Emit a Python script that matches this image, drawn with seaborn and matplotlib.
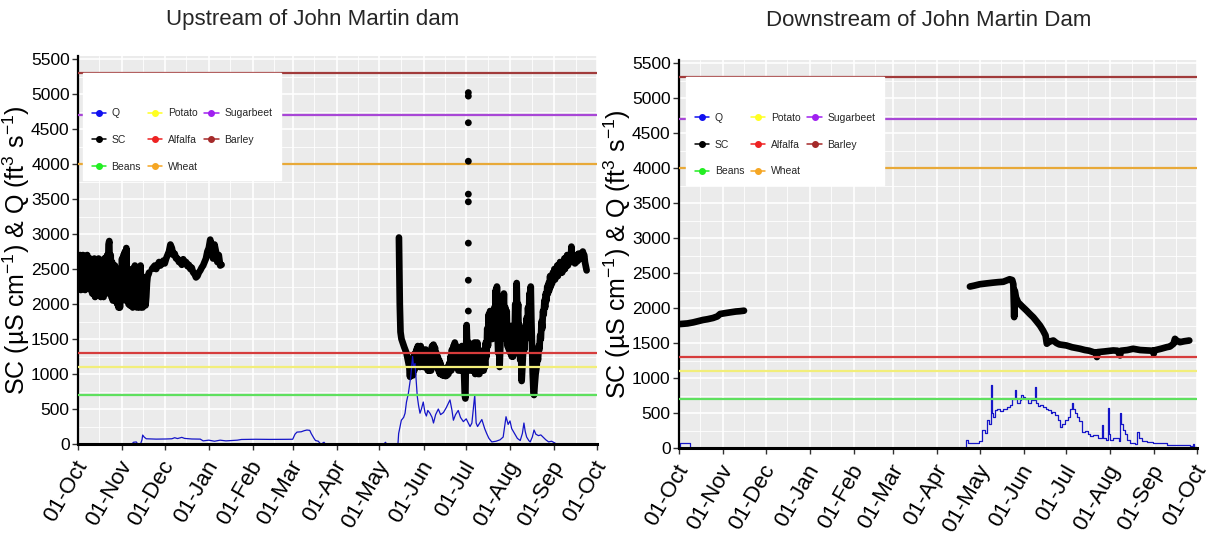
import numpy as np
import pandas as pd
import seaborn as sns
import matplotlib
matplotlib.use('Agg')
import matplotlib.pyplot as plt
import matplotlib.dates as mdates
import matplotlib.transforms as mtransforms
from matplotlib.lines import Line2D
from matplotlib.ticker import MultipleLocator

start = pd.Timestamp('2018-10-01')
end = pd.Timestamp('2019-10-01')

# ---- Upstream of John Martin dam (days since 01-Oct) ----
# Oct-Nov noisy record, read every half day
up_sc_noisy_day = np.arange(0, 50.5, 0.5)
up_sc_noisy = [2350, 2650, 2250, 2700, 2200, 2650, 2300, 2700, 2250, 2600, 2200, 2650, 2300,
               2700, 2250, 2600, 2350, 2650, 2200, 2600, 2150, 2550, 2200, 2650, 2100, 2600,
               2150, 2550, 2250, 2650, 2150, 2600, 2100, 2500, 2150, 2600, 2100, 2650, 2200,
               2600, 2150, 2700, 2250, 2850, 2900, 2300, 2700, 2100, 2600, 2050, 2500, 2100,
               2550, 2050, 2450, 2000, 2400, 1950, 2350, 1950, 2500, 2050, 2650, 2100, 2700,
               2150, 2750, 2050, 2800, 2100, 2500, 2000, 2450, 1980, 2400, 2000, 2500, 1950,
               2450, 2000, 2550, 1980, 2400, 1950, 2450, 2000, 2350, 1950, 2550, 2000, 2400,
               1950, 2350, 2000, 2300, 1980, 2100, 2300, 2400, 2420, 2450]
up_sc_winter_day = [52, 54, 55, 57, 58, 60, 61, 62, 63, 64, 65, 66, 67, 68, 69, 70, 71, 72,
                    73, 74, 75, 76, 77, 78, 79, 80, 81, 82, 83, 84, 85, 86, 87, 88, 89, 90,
                    91, 92, 93, 94, 95, 96, 97, 98, 99, 100, 101]
up_sc_winter = [2500, 2550, 2500, 2600, 2550, 2620, 2580, 2650, 2700, 2750, 2850, 2800, 2700,
                2720, 2650, 2650, 2600, 2620, 2560, 2640, 2580, 2600, 2540, 2560, 2500, 2520,
                2450, 2430, 2380, 2400, 2450, 2480, 2520, 2550, 2600, 2650, 2750, 2800, 2920,
                2800, 2650, 2850, 2750, 2600, 2700, 2550, 2560]

up_sc_summer_day = [225.7, 226.3, 226.8, 227.5, 228.5, 229.5, 231, 232, 233, 233.5, 234,
                    234.5, 235, 235.5, 236, 236.5, 237, 237.5, 238, 238.5, 239, 239.5, 240,
                    240.5, 241, 241.7, 242.3, 243, 243.5, 244, 244.5, 245, 245.5, 246, 246.5,
                    247, 247.7, 248.3, 249, 249.5, 250, 250.5, 251, 251.5, 252, 252.5, 253,
                    253.5, 254, 254.5, 255, 255.5, 256, 256.5, 257, 257.5, 258, 258.5, 259,
                    259.5, 260, 260.5, 261, 261.5, 262, 262.5, 263, 263.5, 264, 264.5, 265,
                    265.5, 266, 266.5, 267, 267.5, 268, 268.5, 269, 269.5, 270, 270.5, 271,
                    271.5, 272, 272.4, 272.8, 273.3, 273.8, 274.3, 274.8, 275.3, 275.8, 276.3,
                    276.8, 277.3, 277.8, 278.3, 278.8, 279.3, 279.8, 280.3, 280.8, 281.3,
                    281.8, 282.3, 282.8, 283.3, 283.8, 284.3, 284.8, 285.3, 285.8, 286.3,
                    286.8, 287.3, 287.8, 288.3, 288.8, 289.3, 289.8, 290.3, 290.8, 291.3,
                    291.8, 292.3, 292.8, 293.3, 293.8, 294.3, 294.6, 295, 295.5, 296, 296.5,
                    297, 297.5, 298, 298.5, 299, 299.5, 300, 300.5, 301, 301.5, 302, 302.5,
                    303, 303.5, 304, 304.5, 305, 305.5, 306, 306.5, 307, 307.5, 308, 308.5,
                    309, 309.5, 310, 310.5, 311, 311.5, 312, 312.5, 313, 313.5, 314, 314.5,
                    315, 315.5, 316, 316.5, 317, 317.5, 318, 318.4, 318.8, 319.3, 319.8,
                    320.3, 320.7, 321.2, 321.8, 322.5, 323, 323.5, 324, 324.5, 325, 325.5,
                    326, 326.5, 327, 327.5, 328, 328.5, 329, 329.5, 330, 330.5, 331, 331.5,
                    332, 332.5, 333, 333.5, 334, 334.5, 335, 335.5, 336, 336.5, 337, 337.5,
                    338, 338.5, 339, 339.5, 340, 340.5, 341, 341.5, 342, 342.5, 343, 343.5,
                    344, 344.5, 345, 345.5, 346, 346.5, 347, 347.5, 348, 348.5, 349, 349.5,
                    350, 350.5, 351, 351.5, 352, 352.5, 353, 353.5, 354, 354.5, 355, 355.5,
                    356, 356.5, 357, 357.7]
up_sc_summer = [2950, 2000, 1600, 1500, 1440, 1380, 1300, 1200, 1100, 960, 1150, 1000, 1200,
                980, 1250, 1050, 1300, 1100, 1350, 1150, 1400, 1150, 1350, 1100, 1400, 1200,
                1350, 1100, 1300, 1150, 1350, 1100, 1300, 1050, 1250, 1050, 1300, 1050, 1400,
                1200, 1420, 1150, 1380, 1150, 1300, 1100, 1250, 1050, 1200, 1000, 1150, 1000,
                1100, 980, 1080, 980, 1050, 970, 1050, 980, 1100, 1000, 1150, 1050, 1250, 1050,
                1350, 1100, 1400, 1150, 1450, 1100, 1400, 1100, 1350, 1050, 1300, 1100, 1350,
                1050, 1400, 1100, 1350, 1000, 700, 650, 1200, 1700, 1350, 1100, 1450, 1050,
                1400, 1100, 1350, 1050, 1400, 1050, 1450, 1000, 1400, 1050, 1450, 1000, 1350,
                1000, 1300, 1050, 1250, 1050, 1300, 1050, 1350, 1100, 1450, 1250, 1650, 1400,
                1850, 1500, 1900, 1550, 1800, 1500, 1750, 1550, 1950, 1700, 2200, 1800, 2250,
                1600, 1300, 1500, 1100, 1400, 1700, 1500, 2000, 1800, 2150, 1700, 1950, 1600,
                1900, 1400, 1700, 1350, 1650, 1300, 1550, 1250, 1500, 1250, 1700, 1500, 2000,
                1700, 2300, 1800, 2000, 1500, 1700, 1200, 1400, 900, 1100, 1300, 1500, 1350,
                1650, 1500, 1800, 1600, 1950, 1750, 2150, 1900, 2250, 1800, 1400, 1000, 750,
                700, 850, 1000, 1100, 1250, 1200, 1400, 1350, 1550, 1500, 1750, 1650, 1900,
                1850, 2050, 1950, 2150, 2050, 2250, 2150, 2300, 2200, 2400, 2250, 2350, 2300,
                2450, 2350, 2500, 2350, 2500, 2400, 2550, 2400, 2550, 2450, 2600, 2450, 2550,
                2450, 2600, 2500, 2650, 2500, 2650, 2550, 2700, 2550, 2650, 2600, 2700, 2600,
                2820, 2650, 2700, 2600, 2650, 2580, 2680, 2600, 2700, 2620, 2720, 2640, 2700,
                2650, 2720, 2650, 2750, 2680, 2700, 2600, 2550, 2480]

up_sc_spike_day = [274.5, 274.5, 274.5, 274.5, 274.5, 274.5, 274.5, 274.5, 274.5]
up_sc_spike = [5020, 4970, 4590, 4040, 3570, 3460, 2870, 2340, 1900]

up_q_day = [0, 38, 39, 41, 42, 44, 45, 45.5, 46.5, 48, 55, 62, 66, 68, 70, 73, 75, 80, 86,
            88, 92, 96, 100, 104, 108, 112, 115, 125, 135, 145, 151, 152.6, 154, 157, 159,
            161, 163, 164, 166, 167, 169, 170, 171, 173, 174, 215, 216.3, 216.9, 225, 225.5,
            227.4, 229, 230, 231, 232.3, 234, 235.3, 236, 237, 238.6, 239.5, 240.5, 241.5,
            242.8, 244, 245, 246, 247.5, 249, 250, 251.5, 253.4, 255, 257, 259, 261.6, 263,
            264, 265.5, 267.4, 269, 271, 273, 275.7, 277, 279, 280, 281, 282.5, 284, 286,
            287.4, 289, 291, 294, 296.8, 299, 301, 302.5, 303.8, 305, 307, 309, 311, 312.5,
            313.6, 314.5, 315.5, 317, 318, 319.5, 320.7, 322, 323.8, 325.5, 327, 329, 331,
            333, 335.4, 336, 365]
up_q = [0, 0, 25, 30, 0, 0, 60, 128, 100, 75, 70, 72, 75, 90, 78, 95, 80, 72, 70, 45, 55,
        40, 55, 45, 50, 55, 65, 68, 66, 67, 68, 140, 170, 175, 190, 200, 195, 150, 80, 50,
        40, 15, 0, 25, 0, 0, 25, 0, 0, 150, 340, 380, 440, 600, 720, 960, 1250, 1100, 1150,
        680, 550, 440, 500, 600, 450, 400, 480, 440, 380, 300, 420, 500, 420, 450, 520, 630,
        480, 340, 420, 480, 380, 320, 360, 250, 300, 700, 300, 250, 300, 350, 220, 150, 80,
        30, 40, 60, 100, 390, 280, 330, 220, 150, 80, 50, 150, 300, 180, 100, 50, 30, 100,
        200, 140, 120, 130, 100, 60, 30, 40, 15, 0, 0]

# ---- Downstream of John Martin Dam ----
dn_sc_fall_day = [0, 3, 6, 10, 13, 17, 20, 24, 27, 29, 32, 36, 40, 43, 45.8]
dn_sc_fall = [1770, 1775, 1780, 1795, 1810, 1830, 1840, 1858, 1880, 1915, 1925, 1938, 1950,
              1955, 1962]

dn_sc_summer_day = [205, 208, 212, 216, 221.5, 225, 228.5, 231, 233, 234.8, 235.6, 236.2,
                    236.6, 237.5, 239, 242, 245, 247, 249.7, 252, 254.4, 256.5, 258.3, 259.2,
                    261, 263.8, 266, 268, 273, 277, 282.6, 286, 289, 292, 294, 294.5, 295, 300,
                    306, 309, 310.8, 311.5, 316, 320, 325, 330, 334, 334.5, 335, 340, 343.7,
                    346, 348.5, 349.5, 351, 353, 356, 359.6]
dn_sc_summer = [2307, 2320, 2340, 2350, 2363, 2370, 2375, 2395, 2411, 2400, 2340, 1870, 2250,
                2150, 2080, 2020, 1962, 1920, 1867, 1810, 1749, 1680, 1610, 1490, 1520, 1536,
                1500, 1480, 1465, 1440, 1418, 1400, 1390, 1370, 1360, 1300, 1370, 1380, 1394,
                1390, 1323, 1390, 1400, 1418, 1400, 1394, 1390, 1347, 1395, 1420, 1441, 1450,
                1490, 1560, 1530, 1512, 1525, 1536]

dn_q_day = [0, 0.7, 7.5, 202.3, 204, 211.5, 213.2, 215.5, 217, 218.5, 219.6, 220.5, 221.5,
            222.7, 224, 226, 228, 230.8, 233, 235, 236.8, 237.5, 238.4, 240, 241, 242.6, 244,
            246.2, 248, 250, 251, 251.8, 253, 254.5, 256.7, 258.5, 260.3, 262, 263, 265, 267,
            268.5, 270, 272, 274, 275.5, 276.7, 277.5, 279, 280.5, 282, 283.8, 286, 288,
            289.6, 292, 295, 297.9, 298.5, 301, 302.5, 303.2, 304, 306, 308.4, 310, 311,
            311.8, 312.8, 314, 316, 318, 321, 323, 324.5, 326, 330, 334, 338, 343.7, 350,
            355, 360, 362, 363, 365]
dn_q = [20, 70, 0, 118, 70, 100, 260, 217, 400, 350, 900, 496, 450, 543, 560, 523, 560, 590,
        620, 700, 827, 700, 638, 680, 760, 732, 700, 638, 690, 690, 874, 638, 600, 620, 590,
        560, 543, 500, 520, 472, 400, 307, 350, 397, 450, 560, 638, 560, 496, 440, 380, 236,
        250, 200, 165, 180, 150, 331, 140, 120, 567, 200, 118, 150, 141, 100, 496, 350, 260,
        200, 120, 70, 60, 236, 150, 95, 80, 70, 65, 48, 40, 40, 35, 60, 20, 20]

# crop salinity thresholds (uS/cm)
crops = ['Beans', 'Potato', 'Alfalfa', 'Wheat', 'Sugarbeet', 'Barley']
crop_sc = [700, 1100, 1300, 4000, 4700, 5300]
crop_line_colors = ['#5EE05E', '#F2EE7A', '#D63C3C', '#E8A938', '#A847D6', '#A13B3B']
crop_key_colors = ['#22EE22', '#FFFF22', '#EE2222', '#F5A623', '#A020F0', '#A52A2A']


def to_frame(day, val):
    return pd.DataFrame({'date': start + pd.to_timedelta(np.asarray(day, dtype=float), unit='D'),
                         'val': val})


sns.set_theme(style='darkgrid', rc={'axes.facecolor': '#EBEBEB', 'grid.color': 'white'})
plt.rcParams['font.family'] = ['Liberation Sans', 'DejaVu Sans']
plt.rcParams['mathtext.fontset'] = 'custom'
plt.rcParams['mathtext.rm'] = 'Liberation Sans'
plt.rcParams['mathtext.it'] = 'Liberation Sans:italic'

fig = plt.figure(figsize=(12.11, 5.34), dpi=100)
ax_up = fig.add_axes([0.0644, 0.1685, 0.4286, 0.7266])
ax_dn = fig.add_axes([0.5607, 0.161, 0.4277, 0.7266])

panels = [
    (ax_up, [(up_sc_noisy_day, up_sc_noisy), (up_sc_winter_day, up_sc_winter),
             (up_sc_summer_day, up_sc_summer)], (up_q_day, up_q), 'default'),
    (ax_dn, [(dn_sc_fall_day, dn_sc_fall), (dn_sc_summer_day, dn_sc_summer)],
     (dn_q_day, dn_q), 'steps-post'),
]

for ax, sc_parts, q_part, q_style in panels:
    for d, v in sc_parts:
        sns.lineplot(data=to_frame(d, v), x='date', y='val', ax=ax, color='black', lw=4.8,
                     estimator=None, sort=False, solid_capstyle='round',
                     solid_joinstyle='round')
    sns.lineplot(data=to_frame(*q_part), x='date', y='val', ax=ax, color='#1515C8', lw=0.9,
                 estimator=None, sort=False, drawstyle=q_style)
    for c, col in zip(crop_sc, crop_line_colors):
        ax.axhline(c, color=col, lw=1.6, zorder=3)

sns.scatterplot(data=to_frame(up_sc_spike_day, up_sc_spike), x='date', y='val', ax=ax_up,
                color='black', s=24, edgecolor='none', zorder=4)

keys = [('Q', '#1010F0'), ('SC', 'black')] + list(zip(crops, crop_key_colors))
handles = [Line2D([0], [0], color=c, lw=1.1, marker='o', markersize=4) for _, c in keys]
labels = [k for k, _ in keys]

label_shift = mtransforms.ScaledTranslation(5 / 100, -3 / 100, fig.dpi_scale_trans)

for ax, anchor in [(ax_up, (0.0096, 0.957)), (ax_dn, (0.0135, 0.955))]:
    ax.set_xlim(start, end)
    ax.set_ylim(0, 5543)
    ax.xaxis.set_major_locator(mdates.MonthLocator())
    ax.xaxis.set_minor_locator(mdates.MonthLocator(bymonthday=16))
    ax.xaxis.set_major_formatter(mdates.DateFormatter('%d-%b'))
    ax.yaxis.set_major_locator(MultipleLocator(500))
    ax.yaxis.set_minor_locator(MultipleLocator(250))
    ax.grid(which='major', color='white', lw=1.2)
    ax.grid(which='minor', color='white', lw=0.6)
    for s in ['top', 'right']:
        ax.spines[s].set_visible(False)
    ax.spines['left'].set_color('black')
    ax.spines['left'].set_linewidth(1.6)
    ax.spines['bottom'].set_color('black')
    ax.spines['bottom'].set_linewidth(2.2)
    ax.spines['bottom'].set_zorder(5)
    ax.tick_params(which='major', bottom=True, left=True, length=4, width=1, color='#333333',
                   pad=2)
    ax.tick_params(which='minor', bottom=False, left=False)
    ax.tick_params(axis='y', labelsize=12.5, labelcolor='black')
    ax.tick_params(axis='x', labelsize=16, labelcolor='black', pad=7)
    for lab in ax.get_xticklabels():
        lab.set_rotation(60)
        lab.set_ha('right')
        lab.set_va('center')
        lab.set_rotation_mode('anchor')
        lab.set_transform(lab.get_transform() + label_shift)
    ax.set_xlabel('')
    ax.set_ylabel('SC (µS cm$^{-1}$) & Q (ft$^{3}$ s$^{-1}$)', fontsize=18, color='black')
    ax.yaxis.set_label_coords(-0.089, 0.5)
    leg = ax.legend(handles, labels, ncol=3, loc='upper left', bbox_to_anchor=anchor,
                    borderaxespad=0, frameon=True, facecolor='white', edgecolor='white',
                    framealpha=1, fancybox=False, prop={'size': 7.5},
                    title=' ', title_fontsize=8, labelspacing=1.6, handlelength=1.35,
                    handletextpad=0.55, columnspacing=0.65, borderpad=0.85)
    leg.set_zorder(10)

fig.text(313 / 1211, 1 - 20 / 534, 'Upstream of John Martin dam', ha='center', va='center',
         fontsize=16)
fig.text(929 / 1211, 1 - 20 / 534, 'Downstream of John Martin Dam', ha='center',
         va='center', fontsize=16)

plt.savefig('out.png', dpi=100)
